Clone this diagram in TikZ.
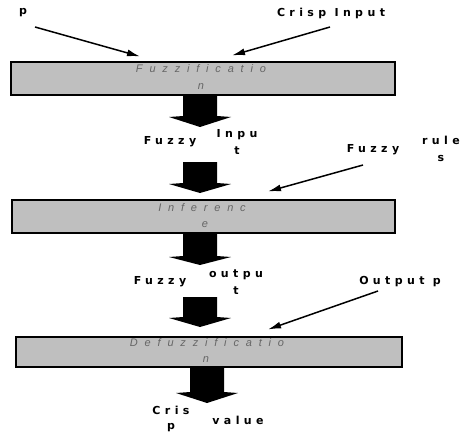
\documentclass[tikz,border=0pt]{standalone}
\usepackage{fontspec}
\usetikzlibrary{arrows.meta,calc}
\newfontfamily\lblfont{DejaVu Sans}[LetterSpace=40]
\newfontfamily\boxfont{Liberation Sans}[LetterSpace=62]
\newcommand\fatarr[4]{% x, top, wing y, tip y
  \fill[black] (#1-17,#2) -- (#1+17,#2) -- (#1+17,#3) -- (#1+31,#3+1) -- (#1,#4)
    -- (#1-31,#3+1) -- (#1-17,#3) -- cycle;}
\tikzset{
  lbl/.style={font=\lblfont\bfseries\fontsize{11}{12}\selectfont, inner sep=0pt, align=center},
  stage/.style={draw=black, line width=1.1pt, fill=black!25, inner sep=0pt},
  stagetext/.style={text=black!60, inner sep=0pt, font=\boxfont\itshape\fontsize{11}{13}\selectfont},
  thinarrow/.style={line width=1.5pt, -{Latex[length=13pt,width=7pt]}}
}
\begin{document}
\begin{tikzpicture}[x=1pt,y=-1pt]
\useasboundingbox (0,0) rectangle (460,433);
% stages
\node[stage, minimum width=384pt, minimum height=33pt] (f1) at (203,78.5) {};
\node[stage, minimum width=383pt, minimum height=33pt] (f2) at (203.5,216.5) {};
\node[stage, minimum width=386pt, minimum height=30pt] (f3) at (209,352) {};
\node[stagetext] (f1a) at (201,69) {Fuzzificatio};
\node[stagetext] (f1b) at (201,87) {n};
\node[stagetext] (f2a) at (202,208) {Inferenc};
\node[stagetext] (f2b) at (205,225) {e};
\node[stagetext] (f3a) at (207,343) {Defuzzificatio};
\node[stagetext] (f3b) at (206,360) {n};
% labels
\node[lbl] (p) at (23,13) {p};
\node[lbl] (ci) at (331,13) {Crisp Input};
\node[lbl] (fz1) at (170,142) {Fuzzy};
\node[lbl] (inp) at (237,142) {Inpu\\[5pt]t};
\node[lbl] (fz2) at (373,150) {Fuzzy};
\node[lbl, anchor=east] (rul) at (460,149) {rule\\[5pt]s};
\node[lbl] (fz3) at (160,282) {Fuzzy};
\node[lbl] (outp) at (236,282) {outpu\\[5pt]t};
\node[lbl] (op) at (400,282) {Output p};
\node[lbl] (cr) at (171,419) {Cris\\[3pt]p};
\node[lbl] (val) at (238,420) {value};
% fat arrows
\fatarr{200}{95}{116}{127}
\fatarr{200}{162}{183}{193}
\fatarr{200}{233}{256}{265}
\fatarr{200}{297}{317}{327}
\fatarr{207}{367}{392}{403}
% thin arrows
\coordinate (pA) at (35,27);
\coordinate (ciA) at (330,27);
\coordinate (rA) at (363,165);
\coordinate (oA) at (378,291);
\draw[thinarrow] (pA) -- ($(f1.north)+(-63,-5)$);
\draw[thinarrow] (ciA) -- ($(f1.north)+(29,-6)$);
\draw[thinarrow] (rA) -- ($(f2.north)+(64.5,-8)$);
\draw[thinarrow] (oA) -- ($(f3.north)+(59,-7)$);
\end{tikzpicture}
\end{document}
